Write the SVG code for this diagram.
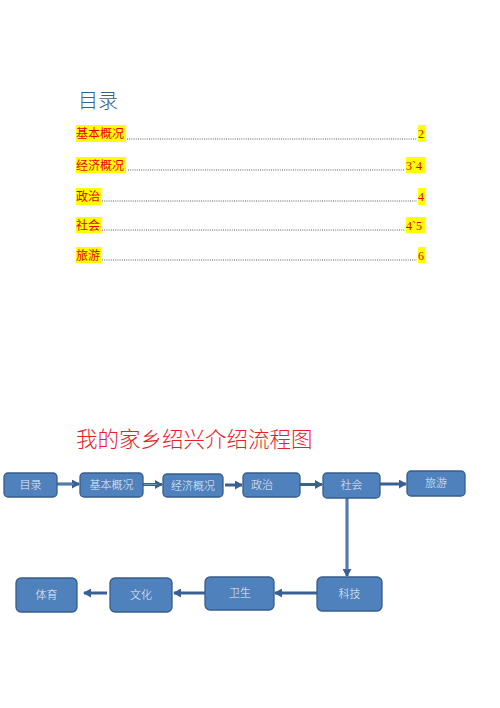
<svg xmlns="http://www.w3.org/2000/svg" width="500" height="708" viewBox="0 0 500 708">
<style>
.cjk{font-family:"Noto Sans CJK SC","Liberation Serif",serif}
.hl{fill:#ffff00}
.toc{font-size:12px;fill:#e60000}
.num{font-family:"Liberation Serif",serif;font-size:12px;fill:#e60000}
.lead{stroke:#333;stroke-width:0.8;stroke-dasharray:1 1.2}
.box{fill:#4f81bd;stroke:#385d8a;stroke-width:1.3}
.bt{font-size:11px;fill:#e8eef7;text-anchor:middle;font-weight:300}
.ar{stroke:#3a5f92;stroke-width:3;fill:none}
.arin{stroke:#6d94c8;stroke-width:1;fill:none}
</style>
<defs>
<marker id="ah" markerUnits="userSpaceOnUse" markerWidth="8" markerHeight="9" refX="7" refY="4.5" orient="auto">
<path d="M0,0 L8,4.5 L0,9 Z" fill="#3a5f92"/>
</marker>
</defs>
<rect width="500" height="708" fill="#fff"/>

<g id="toc">
<text x="78" y="108" class="cjk" font-size="20" font-weight="300" fill="#365f91">目录</text>
<rect x="76" y="125" width="50" height="17" class="hl"/>
<text x="76" y="138" class="cjk toc">基本概况</text>
<line x1="127" y1="139" x2="417" y2="139" class="lead"/>
<rect x="418" y="125" width="7" height="17" class="hl"/>
<text x="418" y="138" class="num">2</text>

<rect x="76" y="157" width="50" height="16" class="hl"/>
<text x="76" y="169.5" class="cjk toc">经济概况</text>
<line x1="128" y1="170" x2="405" y2="170" class="lead"/>
<rect x="406" y="157" width="19" height="16" class="hl"/>
<text x="406" y="169.5" class="num">3`4</text>

<rect x="76" y="188" width="25" height="17" class="hl"/>
<text x="76" y="201" class="cjk toc">政治</text>
<line x1="102" y1="201" x2="417" y2="201" class="lead"/>
<rect x="418" y="188" width="7" height="17" class="hl"/>
<text x="418" y="201" class="num">4</text>

<rect x="76" y="217" width="25" height="16" class="hl"/>
<text x="76" y="229.5" class="cjk toc">社会</text>
<line x1="102" y1="230" x2="405" y2="230" class="lead"/>
<rect x="406" y="217" width="19" height="16" class="hl"/>
<text x="406" y="229.5" class="num">4`5</text>

<rect x="76" y="247" width="25" height="16" class="hl"/>
<text x="76" y="259.5" class="cjk toc">旅游</text>
<line x1="102" y1="260" x2="417" y2="260" class="lead"/>
<rect x="418" y="247" width="7" height="16" class="hl"/>
<text x="418" y="259.5" class="num">6</text>
</g>

<text x="76" y="447" class="cjk" font-size="21.5" font-weight="300" fill="#e8202a">我的家乡绍兴介绍流程图</text>

<g id="connectors">
<line x1="57" y1="484" x2="79" y2="484" class="ar" marker-end="url(#ah)"/>
<line x1="57" y1="484" x2="74" y2="484" class="arin"/>
<line x1="143" y1="484.5" x2="162" y2="484.5" class="ar" marker-end="url(#ah)"/>
<line x1="143" y1="484.5" x2="157" y2="484.5" class="arin"/>
<line x1="225" y1="485" x2="242" y2="485" class="ar" marker-end="url(#ah)"/>
<line x1="300" y1="484.5" x2="322" y2="484.5" class="ar" marker-end="url(#ah)"/>
<line x1="380" y1="484" x2="406" y2="484" class="ar" marker-end="url(#ah)"/>
<line x1="347" y1="498" x2="347" y2="576" class="ar" stroke-width="4" marker-end="url(#ah)"/>
<line x1="347" y1="498" x2="347" y2="570" class="arin"/>
<line x1="317" y1="593" x2="275" y2="593" class="ar" marker-end="url(#ah)"/>
<line x1="205" y1="593" x2="174" y2="593" class="ar" marker-end="url(#ah)"/>
<line x1="107" y1="593" x2="84" y2="593" class="ar" marker-end="url(#ah)"/>
</g>

<g id="n-mulu"><rect x="4" y="473" width="53" height="24" rx="4" class="box"/><text x="30.5" y="489" class="cjk bt">目录</text></g>
<g id="n-jiben"><rect x="80" y="473" width="63" height="24" rx="4" class="box"/><text x="111.5" y="489" class="cjk bt">基本概况</text></g>
<g id="n-jingji"><rect x="163" y="474" width="60" height="23" rx="4" class="box"/><text x="193" y="489.5" class="cjk bt">经济概况</text></g>
<g id="n-zhengzhi"><rect x="243" y="473" width="57" height="24" rx="4" class="box"/><text x="262" y="489" class="cjk bt">政治</text></g>
<g id="n-shehui"><rect x="323" y="473" width="57" height="25" rx="4" class="box"/><text x="351.5" y="489" class="cjk bt">社会</text></g>
<g id="n-lvyou"><rect x="407" y="471" width="58" height="25" rx="4" class="box"/><text x="436" y="487" class="cjk bt">旅游</text></g>
<g id="n-keji"><rect x="317" y="577" width="65" height="34" rx="5" class="box"/><text x="349.5" y="598" class="cjk bt">科技</text></g>
<g id="n-weisheng"><rect x="205" y="577" width="69" height="33" rx="5" class="box"/><text x="240" y="597" class="cjk bt">卫生</text></g>
<g id="n-wenhua"><rect x="110" y="578" width="62" height="34" rx="5" class="box"/><text x="141" y="599" class="cjk bt">文化</text></g>
<g id="n-tiyu"><rect x="16" y="578" width="61" height="34" rx="5" class="box"/><text x="46.5" y="599" class="cjk bt">体育</text></g>
</svg>
